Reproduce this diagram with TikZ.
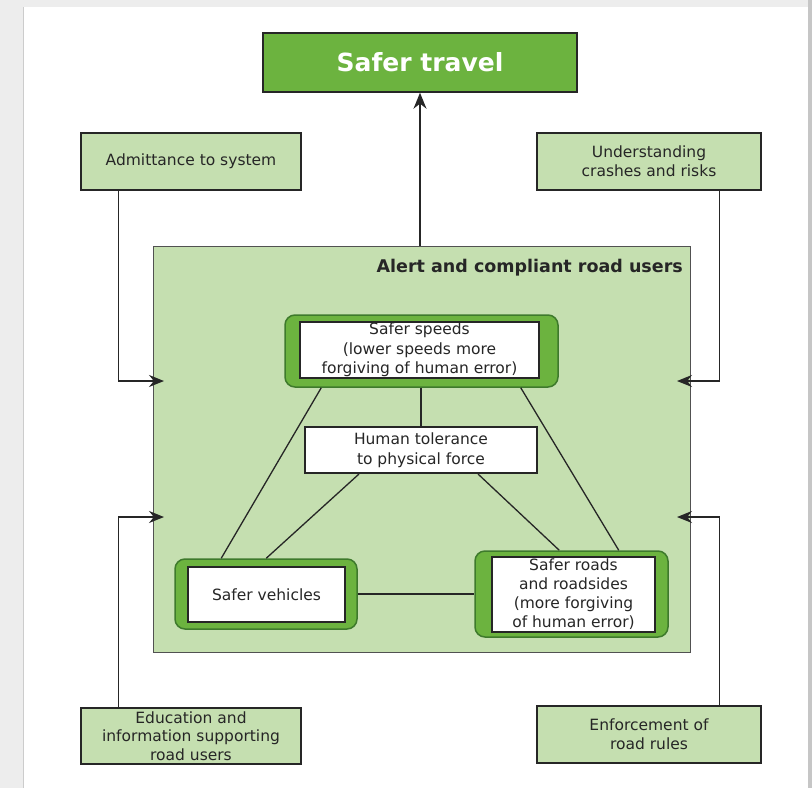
\documentclass[tikz,border=0pt]{standalone}
\usepackage{fontspec}
\setmainfont{DejaVu Sans}
\usetikzlibrary{arrows.meta}
\definecolor{dgreen}{HTML}{6CB33F}
\definecolor{lgreen}{HTML}{C5DFB0}
\definecolor{edge}{HTML}{262626}
\definecolor{gedge}{HTML}{3E7A2C}
\definecolor{frame}{HTML}{EDEDED}
\tikzset{
  sidebox/.style={draw=edge, line width=2.5pt, fill=lgreen, inner sep=0pt, align=center,
    font=\fontsize{15.5}{19}\selectfont, text=edge},
  outerbox/.style={draw=gedge, line width=1.5pt, fill=dgreen, rounded corners=10pt, inner sep=0pt},
  innerbox/.style={draw=edge, line width=1.8pt, fill=white, inner sep=0pt, align=center,
    font=\fontsize{15.5}{19.5}\selectfont, text=edge},
  link/.style={draw=edge, line width=1.3pt},
  arr/.style={draw=edge, line width=1.3pt, -{Stealth[length=15pt,width=12pt]}},
}
\begin{document}
\begin{tikzpicture}[x=1pt,y=-1pt]
\useasboundingbox (0,0) rectangle (812,788);
% page frame
\fill[frame] (0,0) rectangle (812,788);
\fill[white] (23,7) rectangle (808,788);
\draw[gray!40, line width=1pt] (23,7) -- (23,788);
\fill[gray!45] (808,0) rectangle (812,788);

% top goal
\node[draw=edge, line width=1.5pt, fill=dgreen, minimum width=314, minimum height=59, inner sep=0pt,
  text=white, font=\fontsize{25}{30}\selectfont\bfseries] (st) at (420,62.5) {Safer travel};

% side boxes
\node[sidebox, minimum width=220, minimum height=57] (adm) at (191,161.5) {Admittance to system};
\node[sidebox, minimum width=224, minimum height=57] (und) at (649,161.5) {Understanding\\crashes and risks};
\node[sidebox, minimum width=220, minimum height=56, font=\fontsize{15.5}{18.5}\selectfont] (edu) at (191,736) {Education and\\information supporting\\road users};
\node[sidebox, minimum width=224, minimum height=57] (enf) at (649,734.5) {Enforcement of\\road rules};

% big system box
\node[draw=edge!80, line width=1pt, fill=lgreen, minimum width=537, minimum height=406, inner sep=0pt] (big) at (421.5,449) {};
\node[anchor=east, inner sep=0pt, text=edge, font=\fontsize{17.5}{20}\selectfont\bfseries] (alert) at (683,268) {Alert and compliant road users};

% safer speeds
\node[outerbox, minimum width=273, minimum height=72] (ssO) at (421.5,351) {};
\node[innerbox, minimum width=239, minimum height=56] (ss) at (419.5,350) {Safer speeds\\(lower speeds more\\forgiving of human error)};

% human tolerance
\node[innerbox, line width=2pt, minimum width=232, minimum height=46] (ht) at (421,450) {Human tolerance\\to physical force};

% safer vehicles
\node[outerbox, minimum width=182, minimum height=70] (svO) at (266,594) {};
\node[innerbox, minimum width=157, minimum height=55] (sv) at (266.5,594.5) {Safer vehicles};

% safer roads
\node[outerbox, minimum width=193, minimum height=86] (srO) at (571.5,594) {};
\node[innerbox, line width=2.6pt, minimum width=163, minimum height=75, font=\fontsize{15.5}{19}\selectfont] (sr) at (573.5,594.5) {Safer roads\\and roadsides\\(more forgiving\\of human error)};

% links inside system
\draw[link] ([xshift=37]ssO.south west) -- ([xshift=47]svO.north west);
\draw[link] (ht.north |- ssO.south) -- (ht.north);
\draw[link] ([xshift=-38]ssO.south east) -- ([xshift=-50]srO.north east);
\draw[link] ([xshift=55]ht.south west) -- ([xshift=92]svO.north west);
\draw[link] ([xshift=-60]ht.south east) -- ([xshift=85]srO.north west);
\draw[link] (svO.east) -- (srO.west);

% arrows
\coordinate (tl) at (164,381);
\coordinate (tr) at (677,381);
\coordinate (bl) at (164,517);
\coordinate (br) at (677,517);
\draw[arr, -{Stealth[length=16pt,width=13pt]}] (st.south |- big.north) -- (st.south);
\draw[arr] ([xshift=39]adm.south west) |- (tl);
\draw[arr] ([xshift=-43]und.south east) |- (tr);
\draw[arr] ([xshift=39]edu.north west) |- (bl);
\draw[arr] ([xshift=-43]enf.north east) |- (br);
\end{tikzpicture}
\end{document}
